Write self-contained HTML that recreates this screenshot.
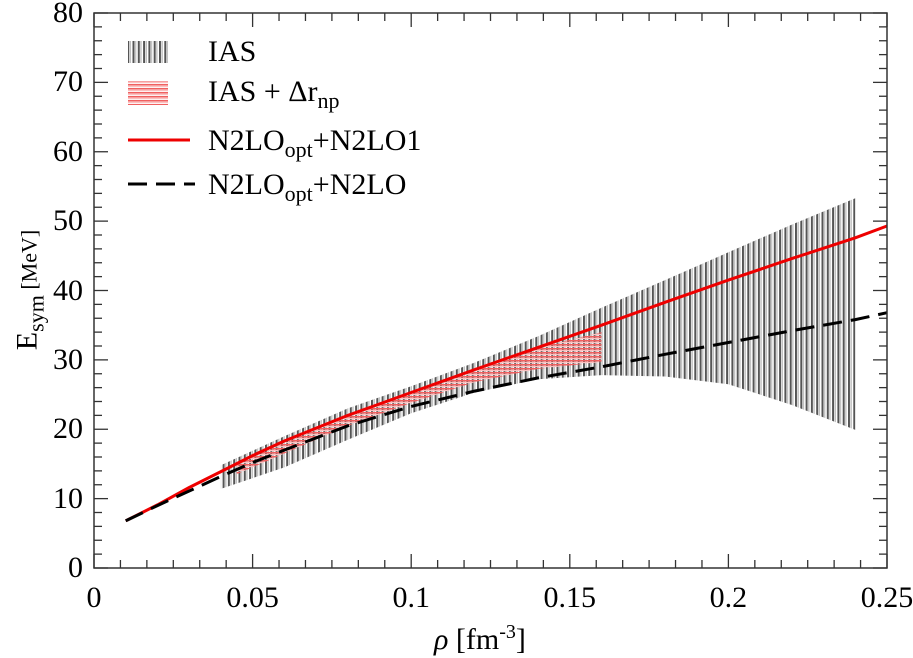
<!DOCTYPE html>
<html><head><meta charset="utf-8"><style>
body{margin:0;background:#fff;font-family:"Liberation Serif","Times New Roman",serif}
#wrap{position:relative;width:913px;height:658px;overflow:hidden}
svg{position:absolute;left:0;top:0}
.lbl{position:absolute;font-family:"Liberation Serif","Times New Roman",serif;color:#000;white-space:nowrap;line-height:1}
.xt{font-size:30px;transform:translateX(-50%)}
.yt{font-size:30px;text-align:right;width:60px}
.leg{font-size:30px}
sub{font-size:22px;vertical-align:-7px}
sup{font-size:20px;vertical-align:11px}
</style></head><body>
<div id="wrap">
<svg id="chart" width="913" height="658" viewBox="0 0 913 658" xmlns="http://www.w3.org/2000/svg">
<defs>
<pattern id="vhatch" patternUnits="userSpaceOnUse" width="5.3" height="10">
<rect x="0" y="0" width="2" height="10" fill="#555"/><rect x="2.6" y="0" width="1.2" height="10" fill="#bbb"/>
</pattern>
<pattern id="hhatch" patternUnits="userSpaceOnUse" width="10" height="4">
<rect x="0" y="0" width="10" height="1.6" fill="#f06060"/><rect x="0" y="2" width="10" height="1.2" fill="#fbc0c0"/>
</pattern>
</defs>
<g id="bands"></g>
<g id="lines"></g>
<g id="axes"></g>
<g id="legend-marks">
<rect x="128" y="41" width="40" height="22" fill="url(#vhatch)"/>
<rect x="128" y="81" width="40" height="24" fill="url(#hhatch)"/>
<line x1="128" y1="140" x2="190" y2="140" stroke="#e00" stroke-width="3"/>
<line x1="128" y1="184" x2="195" y2="184" stroke="#000" stroke-width="3" stroke-dasharray="19,9"/>
</g>
</svg>
<div class="lbl leg" style="left:208px;top:37px">IAS</div>
<div class="lbl leg" style="left:208px;top:77px">IAS + Δr<sub>np</sub></div>
<div class="lbl leg" style="left:208px;top:126px">N2LO<sub>opt</sub>+N2LO1</div>
<div class="lbl leg" style="left:208px;top:170px">N2LO<sub>opt</sub>+N2LO</div>
<div class="lbl" style="left:434px;top:622px;font-size:30px"><i>ρ</i> [fm<sup>-3</sup>]</div>
<div class="lbl" style="left:30px;top:290px;font-size:30px;transform:translate(-50%,-50%) rotate(-90deg)">E<sub>sym</sub><span style="font-size:22px"> [MeV]</span></div>
</div>
<script>
const xTicks=[0,0.05,0.1,0.15,0.2,0.25];
const xTickLabels=["0","0.05","0.1","0.15","0.2","0.25"];
const yTicks=[0,10,20,30,40,50,60,70,80];
const redX=[0.01,0.02,0.03,0.04,0.05,0.06,0.08,0.1,0.12,0.14,0.16,0.18,0.2,0.22,0.24,0.25];
const redY=[6.8,9.1,11.6,13.9,16.2,18.3,22,25.3,28.6,31.8,35,38.3,41.5,44.6,47.6,49.3];
const blackX=[0.01,0.02,0.03,0.04,0.05,0.06,0.08,0.1,0.12,0.14,0.16,0.18,0.2,0.22,0.24,0.25];
const blackY=[6.8,9.0,11.1,13.2,15.2,17,20.5,23.3,25.5,27.4,29,30.8,32.5,34.2,35.8,36.8];
const iasX=[0.04,0.06,0.08,0.1,0.12,0.14,0.16,0.18,0.2,0.22,0.24];
const iasUpper=[14.8,19,23,26.2,29.6,33.4,37.5,41.5,45.5,49.5,53.3];
const iasLower=[11.4,14.5,18.5,22.3,25.3,27.2,27.8,27.6,26.5,23.5,19.9];
const drnpX=[0.045,0.06,0.08,0.1,0.12,0.14,0.16];
const drnpUpper=[15,18,22,25.3,28.6,31.8,34];
const drnpLower=[13.5,16.5,20.5,23.8,26.8,28.7,29.7];

const X0=94,X1=887,Y0=568,Y1=13;
const sx=v=>X0+(v-0)/(0.25)*(X1-X0);
const sy=v=>Y0-(v/80)*(Y0-Y1);
const NS="http://www.w3.org/2000/svg";
function mk(tag,parent,attrs){const e=document.createElementNS(NS,tag);for(const k in attrs)e.setAttribute(k,attrs[k]);parent.appendChild(e);return e;}
function linePath(xs,ys){return xs.map((x,i)=>(i?'L':'M')+sx(x).toFixed(1)+','+sy(ys[i]).toFixed(1)).join(' ');}
function bandPath(xs,up,lo){let d=linePath(xs,up);for(let i=xs.length-1;i>=0;i--)d+=' L'+sx(xs[i]).toFixed(1)+','+sy(lo[i]).toFixed(1);return d+' Z';}

const bands=document.getElementById('bands');
const b1=mk('path',bands,{d:bandPath(iasX,iasUpper,iasLower),fill:'url(#vhatch)'});


const b2=mk('path',bands,{d:bandPath(drnpX,drnpUpper,drnpLower),fill:'url(#hhatch)'});



const lines=document.getElementById('lines');
const l2=mk('path',lines,{d:linePath(redX,redY),fill:'none',stroke:'#e00','stroke-width':3,'stroke-linejoin':'round'});


const l1=mk('path',lines,{d:linePath(blackX,blackY),fill:'none',stroke:'#000','stroke-width':3,'stroke-dasharray':'19,9'});



const axes=document.getElementById('axes');
const fr=mk('rect',axes,{x:X0,y:Y1,width:X1-X0,height:Y0-Y1,fill:'none',stroke:'#333','stroke-width':1.5});


for(let i=0;i<=30;i++){const v=i*0.25/30;const x=sx(v);const L=(i%6==0)?14:8;
 mk('line',axes,{x1:x,y1:Y0,x2:x,y2:Y0-L,stroke:'#333','stroke-width':1.3});
 mk('line',axes,{x1:x,y1:Y1,x2:x,y2:Y1+L,stroke:'#333','stroke-width':1.3});}
for(let i=0;i<=40;i++){const y=sy(i*2);const L=(i%5==0)?14:8;
 mk('line',axes,{x1:X0,y1:y,x2:X0+L,y2:y,stroke:'#333','stroke-width':1.3});
 mk('line',axes,{x1:X1,y1:y,x2:X1-L,y2:y,stroke:'#333','stroke-width':1.3});}
const wrap=document.getElementById('wrap');
xTicks.forEach((v,i)=>{const d=document.createElement('div');d.className='lbl xt';d.style.left=sx(v)+'px';d.style.top='583px';d.textContent=xTickLabels[i];
 
 
 wrap.appendChild(d);});
yTicks.forEach(v=>{const d=document.createElement('div');d.className='lbl yt';d.style.left='23px';d.style.top=(sy(v)-15)+'px';d.textContent=String(v);
 
 
 wrap.appendChild(d);});
</script>
</body></html>
